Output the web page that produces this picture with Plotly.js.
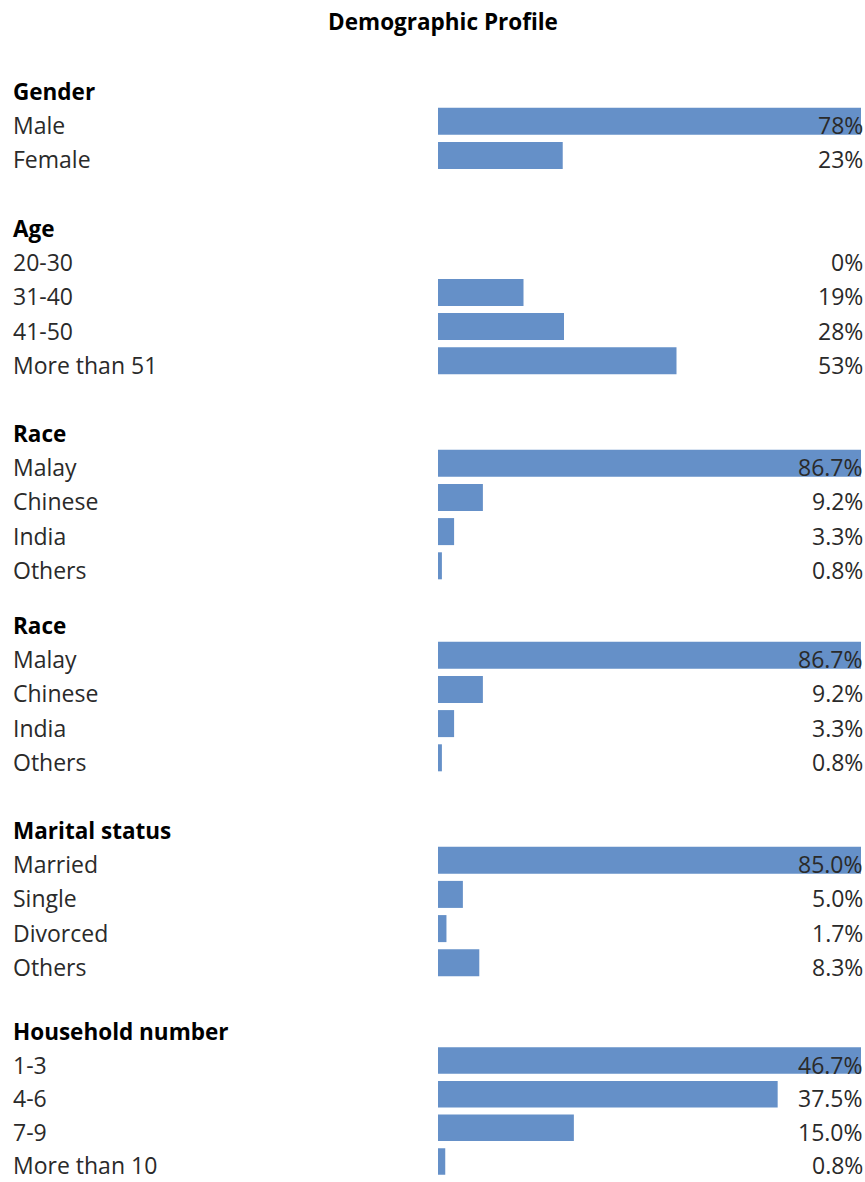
<!DOCTYPE html>
<html>
<head>
<meta charset="utf-8">
<script src="https://cdn.plot.ly/plotly-3.0.1.min.js"></script>
<style>html,body{margin:0;padding:0;background:#fff;}#chart{width:865px;height:1182px;}</style>
</head>
<body>
<div id="chart"></div>
<script>
// ---- data ----
const chartTitle = 'Demographic Profile';
const sectionTitles = ['Gender', 'Age', 'Race', 'Race', 'Marital status', 'Household number'];
const genderLabels = ['Male', 'Female'];
const genderValues = [78, 23];
const ageLabels = ['20-30', '31-40', '41-50', 'More than 51'];
const ageValues = [0, 19, 28, 53];
const raceLabels = ['Malay', 'Chinese', 'India', 'Others'];
const raceValues = [86.7, 9.2, 3.3, 0.8];
const maritalLabels = ['Married', 'Single', 'Divorced', 'Others'];
const maritalValues = [85.0, 5.0, 1.7, 8.3];
const householdLabels = ['1-3', '4-6', '7-9', 'More than 10'];
const householdValues = [46.7, 37.5, 15.0, 0.8];
const valueDecimals = [0, 0, 1, 1, 1, 1];
const barScaleMax = [78, 94, 86.7, 86.7, 85.0, 46.7];

// ---- layout settings (pixels) ----
const W = 865, H = 1182;
const headerTextY = [91, 228, 433, 625, 830, 1031];
const pitches = [34.2, 34.2, 34.2, 34.2, 34.2, 33.6];
const textOffset = 4;        // text centre sits below bar centre
const barLeft = 438, barRight = 861;
const labelX = 12, valueRight = 864;
const FONT = '"Open Sans", "Noto Sans", sans-serif';
const barColor = '#6590C8';

const sections = [
  {labels: genderLabels, values: genderValues},
  {labels: ageLabels, values: ageValues},
  {labels: raceLabels, values: raceValues},
  {labels: raceLabels, values: raceValues},
  {labels: maritalLabels, values: maritalValues},
  {labels: householdLabels, values: householdValues}
];

const data = [];
const layout = {
  width: W, height: H,
  margin: {l: 0, r: 0, t: 0, b: 0},
  paper_bgcolor: '#fff', plot_bgcolor: 'rgba(0,0,0,0)',
  showlegend: false,
  title: {text: '<b>' + chartTitle + '</b>', x: 443 / W, xanchor: 'center', y: 1 - 22 / H, yanchor: 'middle',
          font: {family: FONT, size: 22.5, color: '#000'}},
  annotations: []
};

sections.forEach((sec, i) => {
  const xa = i === 0 ? 'x' : 'x' + (i + 1);
  const ya = i === 0 ? 'y' : 'y' + (i + 1);
  const xKey = i === 0 ? 'xaxis' : 'xaxis' + (i + 1);
  const yKey = i === 0 ? 'yaxis' : 'yaxis' + (i + 1);
  const pitch = pitches[i];
  const cats = ['__hdr' + i].concat(sec.labels);
  const n = cats.length;
  const firstCentre = headerTextY[i] - textOffset;
  const topPx = firstCentre - pitch / 2;
  const botPx = firstCentre + (n - 1) * pitch + pitch / 2;
  layout[xKey] = {domain: [barLeft / W, barRight / W], range: [0, barScaleMax[i]], visible: false,
                  anchor: ya, fixedrange: true};
  layout[yKey] = {domain: [Math.max(0, 1 - botPx / H), 1 - topPx / H], type: 'category', categoryarray: cats,
                  categoryorder: 'array', range: [n - 0.5, -0.5], visible: false, anchor: xa, fixedrange: true};
  data.push({
    type: 'bar', orientation: 'h', x: sec.values, y: sec.labels, xaxis: xa, yaxis: ya,
    width: 0.79,
    marker: {color: barColor, line: {width: 0}},
    hoverinfo: 'skip'
  });
  // invisible point so the header category exists on the axis
  data.push({type: 'scatter', mode: 'markers', x: [0], y: [cats[0]], xaxis: xa, yaxis: ya,
             marker: {opacity: 0}, hoverinfo: 'skip'});
  layout.annotations.push({
    xref: 'paper', x: labelX / W, xanchor: 'left', yref: ya, y: cats[0], yanchor: 'middle', yshift: -textOffset,
    borderpad: 0,
    text: '<b>' + sectionTitles[i] + '</b>', showarrow: false, font: {family: FONT, size: 22.5, color: '#000'}
  });
  sec.labels.forEach((lab, k) => {
    layout.annotations.push({
      xref: 'paper', x: labelX / W, xanchor: 'left', yref: ya, y: lab, yanchor: 'middle', yshift: -textOffset,
      borderpad: 0,
      text: lab, showarrow: false, font: {family: FONT, size: 23, color: '#2a2a2a'}
    });
    layout.annotations.push({
      xref: 'paper', x: valueRight / W, xanchor: 'right', yref: ya, y: lab, yanchor: 'middle', yshift: -textOffset,
      borderpad: 0,
      text: sec.values[k].toFixed(valueDecimals[i]) + '%', showarrow: false,
      font: {family: FONT, size: 23, color: '#2a2a2a'}
    });
  });
});

Plotly.newPlot('chart', data, layout, {displayModeBar: false, staticPlot: true});
</script>
</body>
</html>
